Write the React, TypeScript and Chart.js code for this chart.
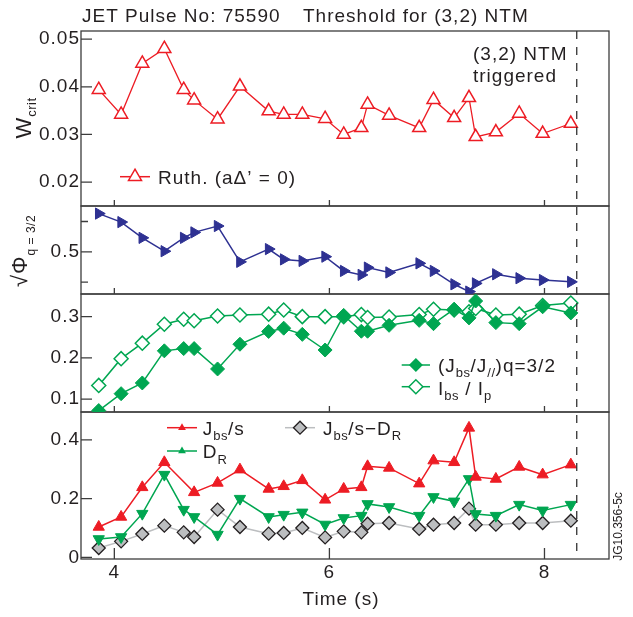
import React, { useEffect, useRef } from 'react';
import { Chart, registerables } from 'chart.js';

Chart.register(...registerables);

// ---------- data ----------
const times = [3.855, 4.063, 4.26, 4.465, 4.645, 4.742, 4.96, 5.168, 5.435, 5.575, 5.748, 5.96, 6.133, 6.297, 6.355, 6.555, 6.835, 6.968, 7.16, 7.298, 7.36, 7.548, 7.765, 7.983, 8.245];
const wCritRuth = [0.0394, 0.0342, 0.0449, 0.048, 0.0394, 0.0372, 0.0332, 0.0401, 0.0349, 0.0342, 0.0342, 0.0333, 0.03, 0.0314, 0.0363, 0.034, 0.0314, 0.0373, 0.0335, 0.0377, 0.0295, 0.0305, 0.0344, 0.0302, 0.0323];
const sqrtPhi = [0.626, 0.598, 0.546, 0.502, 0.546, 0.564, 0.585, 0.467, 0.509, 0.475, 0.47, 0.484, 0.437, 0.424, 0.448, 0.432, 0.462, 0.437, 0.393, 0.369, 0.396, 0.426, 0.413, 0.407, 0.401];
const jbsOverJpar = [0.072, 0.113, 0.139, 0.217, 0.2225, 0.2225, 0.173, 0.233, 0.264, 0.272, 0.257, 0.219, 0.303, 0.2646, 0.2646, 0.279, 0.291, 0.283, 0.318, 0.297, 0.338, 0.2855, 0.283, 0.324, 0.309];
const ibsOverIp = [0.133, 0.198, 0.2356, 0.2816, 0.2937, 0.29, 0.3017, 0.304, 0.306, 0.316, 0.3, 0.3, 0.3, 0.305, 0.298, 0.299, 0.305, 0.318, 0.316, 0.312, 0.32, 0.304, 0.306, 0.327, 0.333];
const jbsOverS = [0.1036, 0.1377, 0.2385, 0.3237, null, 0.2215, 0.2535, 0.2988, 0.233, 0.242, 0.2624, 0.196, 0.233, 0.2385, 0.31, 0.3046, 0.2511, 0.3295, 0.3237, 0.4409, 0.274, 0.267, 0.308, 0.2818, 0.3158];
const dR = [0.0627, 0.0695, 0.1489, 0.2818, 0.1625, 0.1377, 0.0777, 0.2, 0.1377, 0.1455, 0.1533, 0.112, 0.1342, 0.1421, 0.182, 0.1717, 0.1421, 0.2058, 0.1908, 0.2671, 0.1479, 0.1421, 0.1796, 0.1601, 0.1796];
const jbsMinusDR = [0.032, 0.0546, 0.0798, 0.108, 0.0852, 0.0695, 0.1625, 0.1036, 0.0808, 0.0832, 0.1002, 0.068, 0.0886, 0.0852, 0.1148, 0.1172, 0.0968, 0.1114, 0.1172, 0.1659, 0.1114, 0.1114, 0.1172, 0.1172, 0.125];

const timeTicks = [4, 6, 8];
const timeLabels = ['4', '6', '8'];
const wTicks = [0.02, 0.03, 0.04, 0.05];
const wLabels = ['0.02', '0.03', '0.04', '0.05'];
const phiTicks = [0.4, 0.5, 0.6];
const phiLabels = ['', '0.5', ''];
const fracTicks = [0.1, 0.2, 0.3];
const fracLabels = ['0.1', '0.2', '0.3'];
const driveTicks = [0, 0.2, 0.4];
const driveLabels = ['0', '0.2', '0.4'];
const ntmTime = 8.3;

const titleLeft = 'JET Pulse No: 75590';
const titleRight = 'Threshold for (3,2) NTM';

// ---------- styles ----------
const FONT = '"Liberation Sans", Arial, Helvetica, sans-serif';
const INK = '#231f20';
const FRAME = '#3c3c3c';
const RED = '#ed1c24';
const BLUE = '#2e3192';
const GREEN = '#00a651';
const GREY = '#bcbec0';

const panels = [
  { id: 'yA', ticks: wTicks, labels: wLabels, min: 0.015, max: 0.0517, weight: 175, xTick: 6 },
  { id: 'yB', ticks: phiTicks, labels: phiLabels, min: 0.361, max: 0.651, weight: 88, xTick: 6 },
  { id: 'yC', ticks: fracTicks, labels: fracLabels, min: 0.0685, max: 0.355, weight: 118, xTick: 6 },
  { id: 'yD', ticks: driveTicks, labels: driveLabels, min: -0.0055, max: 0.495, weight: 147, xTick: 11 },
];

interface Seg { t: string; sub?: boolean }

function setFont(ctx: any, size: number, spacing: number) {
  ctx.font = `${size}px ${FONT}`;
  ctx.letterSpacing = `${spacing}px`;
}

function richWidth(ctx: any, segs: Seg[], size: number, subSize: number) {
  let w = 0;
  for (const s of segs) {
    setFont(ctx, s.sub ? subSize : size, s.sub ? 0.5 : 1);
    w += ctx.measureText(s.t).width;
  }
  return w;
}

function drawRich(ctx: any, segs: Seg[], x: number, y: number, size: number, subSize: number, drop: number, center = false) {
  ctx.textAlign = 'left';
  ctx.textBaseline = 'alphabetic';
  ctx.fillStyle = INK;
  let cx = center ? x - richWidth(ctx, segs, size, subSize) / 2 : x;
  for (const s of segs) {
    setFont(ctx, s.sub ? subSize : size, s.sub ? 0.5 : 1);
    ctx.fillText(s.t, cx, s.sub ? y + drop : y);
    cx += ctx.measureText(s.t).width;
  }
}

function marker(ctx: any, style: string, x: number, y: number, r: number, fill: string | null, stroke: string | null, lw = 1.5) {
  ctx.beginPath();
  if (style === 'diamond') {
    ctx.moveTo(x - r, y);
    ctx.lineTo(x, y - r);
    ctx.lineTo(x + r, y);
    ctx.lineTo(x, y + r);
  } else {
    const rot = style === 'down' ? Math.PI : 0;
    for (let k = 0; k < 3; k++) {
      const a = rot + (k * 2 * Math.PI) / 3;
      const px = x + Math.sin(a) * r;
      const py = y - Math.cos(a) * r;
      if (k === 0) ctx.moveTo(px, py);
      else ctx.lineTo(px, py);
    }
  }
  ctx.closePath();
  if (fill) { ctx.fillStyle = fill; ctx.fill(); }
  if (stroke) { ctx.strokeStyle = stroke; ctx.lineWidth = lw; ctx.stroke(); }
}

function legendItem(ctx: any, x1: number, x2: number, y: number, lineColor: string, style: string, r: number, fill: string | null, stroke: string | null, lw = 1.5) {
  ctx.beginPath();
  ctx.strokeStyle = lineColor;
  ctx.lineWidth = 1.5;
  ctx.moveTo(x1, y);
  ctx.lineTo(x2, y);
  ctx.stroke();
  marker(ctx, style, (x1 + x2) / 2, y, r, fill, stroke, lw);
}

const decorPlugin = {
  id: 'decor',
  beforeUpdate(chart: any) { chart.ctx.letterSpacing = '1px'; },
  beforeDraw(chart: any) { chart.ctx.letterSpacing = '1px'; },
  beforeDatasetsDraw(chart: any) {
    const { ctx, chartArea } = chart;
    const { left, right } = chartArea;
    const xs = chart.scales.x;
    ctx.save();
    ctx.strokeStyle = FRAME;
    ctx.lineWidth = 1.3;
    for (const p of panels) {
      const s = chart.scales[p.id];
      ctx.strokeRect(left, s.top, right - left, s.bottom - s.top);
      ctx.beginPath();
      p.ticks.forEach((v, i) => {
        const y = s.getPixelForValue(v);
        const len = p.labels[i] ? 11 : 7;
        ctx.moveTo(left, y);
        ctx.lineTo(left + len, y);
      });
      timeTicks.forEach((t) => {
        const px = xs.getPixelForValue(t);
        ctx.moveTo(px, s.bottom);
        ctx.lineTo(px, s.bottom - p.xTick);
      });
      ctx.stroke();
    }
    ctx.restore();
  },
  afterDatasetsDraw(chart: any) {
    const { ctx, chartArea } = chart;
    const xs = chart.scales.x;
    ctx.save();
    // NTM trigger line
    const xn = xs.getPixelForValue(ntmTime);
    ctx.strokeStyle = '#333';
    ctx.lineWidth = 1.3;
    ctx.setLineDash([8, 8]);
    ctx.beginPath();
    ctx.moveTo(xn, chartArea.top);
    ctx.lineTo(xn, chartArea.bottom);
    ctx.stroke();
    ctx.setLineDash([]);

    // titles
    drawRich(ctx, [{ t: titleLeft }], 82, 21.7, 19, 13, 5);
    drawRich(ctx, [{ t: titleRight }], 303, 21.7, 19, 13, 5);
    drawRich(ctx, [{ t: '(3,2) NTM' }], 473, 60, 19, 13, 5);
    drawRich(ctx, [{ t: 'triggered' }], 473, 82, 19, 13, 5);

    // legends panel 1
    legendItem(ctx, 120, 150, 176.7, RED, 'up', 7.5, '#fff', RED);
    drawRich(ctx, [{ t: 'Ruth. (aΔ’ = 0)' }], 158, 184, 19, 13, 5);

    // legends panel 3
    legendItem(ctx, 401.7, 430, 365, GREEN, 'diamond', 7, GREEN, null);
    drawRich(ctx, [{ t: '(J' }, { t: 'bs', sub: true }, { t: '/J' }, { t: '//', sub: true }, { t: ')q=3/2' }], 438, 372, 19, 13, 5);
    legendItem(ctx, 401.7, 430, 386.7, GREEN, 'diamond', 7, '#fff', GREEN);
    drawRich(ctx, [{ t: 'I' }, { t: 'bs', sub: true }, { t: ' / I' }, { t: 'p', sub: true }], 438, 395, 19, 13, 5);

    // legends panel 4
    legendItem(ctx, 167, 197, 427.7, RED, 'up', 4.5, RED, null);
    drawRich(ctx, [{ t: 'J' }, { t: 'bs', sub: true }, { t: '/s' }], 202.7, 435, 19, 13, 5);
    legendItem(ctx, 167, 197, 451, GREEN, 'up', 4.5, GREEN, null);
    drawRich(ctx, [{ t: 'D' }, { t: 'R', sub: true }], 202.7, 458.3, 19, 13, 6);
    legendItem(ctx, 285, 315, 427.7, GREY, 'diamond', 6.5, GREY, INK, 1.3);
    drawRich(ctx, [{ t: 'J' }, { t: 'bs', sub: true }, { t: '/s−D' }, { t: 'R', sub: true }], 323, 435, 19, 13, 5);

    // axis title
    drawRich(ctx, [{ t: 'Time (s)' }], 341, 605, 19, 13, 5, true);

    // rotated y titles
    ctx.save();
    ctx.translate(31, 118);
    ctx.rotate(-Math.PI / 2);
    drawRich(ctx, [{ t: 'W' }, { t: 'crit', sub: true }], 0, 0, 22, 13, 5, true);
    ctx.restore();

    ctx.save();
    ctx.translate(27, 251);
    ctx.rotate(-Math.PI / 2);
    drawRich(ctx, [{ t: '√Φ' }, { t: 'q = 3/2', sub: true }], 0, 0, 22, 12, 8, true);
    ctx.restore();

    ctx.save();
    ctx.translate(621.5, 526.5);
    ctx.rotate(-Math.PI / 2);
    setFont(ctx, 12, 0);
    ctx.fillStyle = INK;
    ctx.textAlign = 'center';
    ctx.textBaseline = 'alphabetic';
    ctx.fillText('JG10.356-5c', 0, 0);
    ctx.restore();

    ctx.restore();
    ctx.letterSpacing = '1px';
  },
};

const pts = (vals: (number | null)[]) => times.map((t, i) => ({ x: t, y: vals[i] }));

export default function App() {
  const ref = useRef<HTMLCanvasElement>(null);
  useEffect(() => {
    const scales: any = {
      x: {
        type: 'linear',
        position: 'bottom',
        min: 3.69,
        max: 8.6,
        grid: { display: false, drawTicks: false },
        border: { display: false },
        afterFit: (s: any) => { s.height = 58; },
        afterBuildTicks: (s: any) => { s.ticks = timeTicks.map((v) => ({ value: v })); },
        ticks: {
          autoSkip: false,
          maxRotation: 0,
          padding: 2,
          color: INK,
          font: { family: FONT, size: 19 },
          callback: (_v: any, i: number) => timeLabels[i],
        },
      },
    };
    for (const p of [...panels].reverse()) {
      scales[p.id] = {
        type: 'linear',
        position: 'left',
        stack: 'panels',
        stackWeight: p.weight,
        min: p.min,
        max: p.max,
        grid: { display: false, drawTicks: false },
        border: { display: false },
        afterFit: (s: any) => { s.width = 81; },
        afterBuildTicks: (s: any) => { s.ticks = p.ticks.map((v) => ({ value: v })); },
        ticks: {
          autoSkip: false,
          padding: 1,
          color: INK,
          font: { family: FONT, size: 19 },
          callback: (_v: any, i: number) => p.labels[i],
        },
      };
    }
    const chart = new Chart(ref.current!, {
      type: 'line',
      data: {
        datasets: [
          {
            label: 'Ruth. (aΔ’ = 0)', data: pts(wCritRuth), yAxisID: 'yA',
            borderColor: RED, borderWidth: 1.3, pointStyle: 'triangle', pointRadius: 7.5,
            pointBackgroundColor: '#fff', pointBorderColor: RED, pointBorderWidth: 1.5,
          },
          {
            label: '√Φ q=3/2', data: pts(sqrtPhi), yAxisID: 'yB',
            borderColor: BLUE, borderWidth: 1.5, pointStyle: 'triangle', pointRotation: 90, pointRadius: 6.5,
            pointBackgroundColor: BLUE, pointBorderColor: BLUE, pointBorderWidth: 1,
          },
          {
            label: '(Jbs/J//)q=3/2', data: pts(jbsOverJpar), yAxisID: 'yC',
            borderColor: GREEN, borderWidth: 1.5, pointStyle: 'rectRot', pointRadius: 7,
            pointBackgroundColor: GREEN, pointBorderColor: GREEN, pointBorderWidth: 1,
          },
          {
            label: 'Ibs / Ip', data: pts(ibsOverIp), yAxisID: 'yC',
            borderColor: GREEN, borderWidth: 1.5, pointStyle: 'rectRot', pointRadius: 7,
            pointBackgroundColor: '#fff', pointBorderColor: GREEN, pointBorderWidth: 1.5,
          },
          {
            label: 'Jbs/s', data: pts(jbsOverS), yAxisID: 'yD', spanGaps: true,
            borderColor: RED, borderWidth: 1.5, pointStyle: 'triangle', pointRadius: 6.5,
            pointBackgroundColor: RED, pointBorderColor: RED, pointBorderWidth: 1,
          },
          {
            label: 'DR', data: pts(dR), yAxisID: 'yD',
            borderColor: GREEN, borderWidth: 1.5, pointStyle: 'triangle', pointRotation: 180, pointRadius: 6.5,
            pointBackgroundColor: GREEN, pointBorderColor: GREEN, pointBorderWidth: 1,
          },
          {
            label: 'Jbs/s−DR', data: pts(jbsMinusDR), yAxisID: 'yD',
            borderColor: GREY, borderWidth: 1.5, pointStyle: 'rectRot', pointRadius: 6.5,
            pointBackgroundColor: GREY, pointBorderColor: INK, pointBorderWidth: 1.3,
          },
        ] as any,
      },
      options: {
        responsive: false,
        maintainAspectRatio: false,
        animation: false,
        events: [],
        layout: { padding: { top: 31, right: 24, left: 0, bottom: 0 } },
        plugins: { legend: { display: false }, tooltip: { enabled: false }, title: { display: false } },
        elements: { line: { tension: 0, fill: false } },
        scales,
      } as any,
      plugins: [decorPlugin as any],
    });
    return () => chart.destroy();
  }, []);
  return (
    <div style={{ position: 'fixed', left: 0, top: 0, width: 633, height: 617, background: '#fff' }}>
      <canvas ref={ref} width={633} height={617} style={{ display: 'block' }} />
    </div>
  );
}
